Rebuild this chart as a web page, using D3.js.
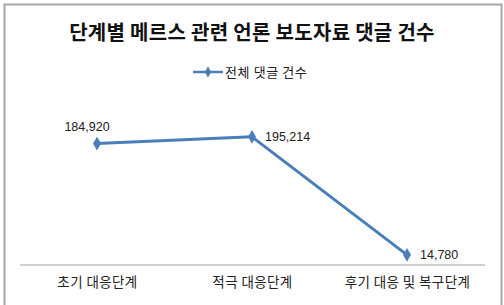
<!DOCTYPE html>
<html>
<head>
<meta charset="utf-8">
<script src="https://cdn.jsdelivr.net/npm/d3@7"></script>
<style>
  body { margin: 0; background: #fff; }
  text { font-family: "Noto Sans CJK KR", "Noto Sans", sans-serif; }
</style>
</head>
<body>
<div id="chart"></div>
<script>
// ---------- Data ----------
const stages = ["초기 대응단계", "적극 대응단계", "후기 대응 및 복구단계"];
const comments = [184920, 195214, 14780];
const seriesName = "전체 댓글 건수";
const title = "단계별 메르스 관련 언론 보도자료 댓글 건수";

// ---------- Layout ----------
const width = 504, height = 305;
const plot = { left: 19.5, right: 484.5, top: 101, bottom: 264.5 };
const blue = "#4a7ebb";

const svg = d3.select("#chart")
  .append("svg")
  .attr("width", width)
  .attr("height", height);

// chart frame
svg.append("rect")
  .attr("x", 4.5).attr("y", 4.5)
  .attr("width", 497).attr("height", 310)
  .attr("fill", "#fff")
  .attr("stroke", "#a6a6a6")
  .attr("stroke-width", 2);

// ---------- Scales ----------
const x = d3.scalePoint()
  .domain(stages)
  .range([plot.left, plot.right])
  .padding(0.5);

const y = d3.scaleLinear()
  .domain([0, 250000])
  .range([plot.bottom, plot.top]);

// ---------- Title ----------
svg.append("text")
  .attr("x", 252)
  .attr("y", 40)
  .attr("text-anchor", "middle")
  .attr("font-size", 20)
  .attr("font-weight", "bold")
  .attr("letter-spacing", 0.3)
  .attr("fill", "#111")
  .text(title);

// ---------- Legend ----------
const legend = svg.append("g").attr("transform", "translate(193,72)");
legend.append("line")
  .attr("x1", 0).attr("x2", 30)
  .attr("stroke", blue).attr("stroke-width", 2.5);
legend.append("path")
  .attr("d", d3.symbol(d3.symbolDiamond, 34)())
  .attr("transform", "translate(15,0)")
  .attr("fill", blue);
legend.append("text")
  .attr("x", 32)
  .attr("y", 5)
  .attr("font-size", 13)
  .attr("letter-spacing", 0.6)
  .attr("fill", "#222")
  .text(seriesName);

// ---------- Axis ----------
const xAxis = svg.append("g")
  .attr("transform", `translate(0,${plot.bottom})`)
  .call(d3.axisBottom(x).tickSize(0).tickPadding(13));
xAxis.select(".domain").attr("stroke", "#bfbfbf").attr("stroke-width", 1.5);
xAxis.selectAll("text")
  .attr("font-size", 13.5)
  .attr("letter-spacing", 0.4)
  .attr("fill", "#222")
  .style("font-family", "\"Noto Sans CJK KR\", sans-serif");

// ---------- Line ----------
const line = d3.line()
  .x((d, i) => x(stages[i]))
  .y(d => y(d));

svg.append("path")
  .datum(comments)
  .attr("d", line)
  .attr("fill", "none")
  .attr("stroke", blue)
  .attr("stroke-width", 3)
  .attr("stroke-linejoin", "round");

svg.selectAll(".marker")
  .data(comments)
  .enter()
  .append("path")
  .attr("class", "marker")
  .attr("d", d3.symbol(d3.symbolDiamond, 55)())
  .attr("transform", (d, i) => `translate(${x(stages[i])},${y(d)})`)
  .attr("fill", blue);

// ---------- Data labels ----------
const labelOffsets = [[-10, -13, "middle"], [13, 4, "start"], [13, 4, "start"]];
svg.selectAll(".value")
  .data(comments)
  .enter()
  .append("text")
  .attr("class", "value")
  .attr("x", (d, i) => x(stages[i]) + labelOffsets[i][0])
  .attr("y", (d, i) => y(d) + labelOffsets[i][1])
  .attr("text-anchor", (d, i) => labelOffsets[i][2])
  .attr("font-size", 12.5)
  .attr("fill", "#222")
  .style("font-family", "\"Liberation Sans\", Arial, sans-serif")
  .text(d => d3.format(",")(d));
</script>
</body>
</html>
